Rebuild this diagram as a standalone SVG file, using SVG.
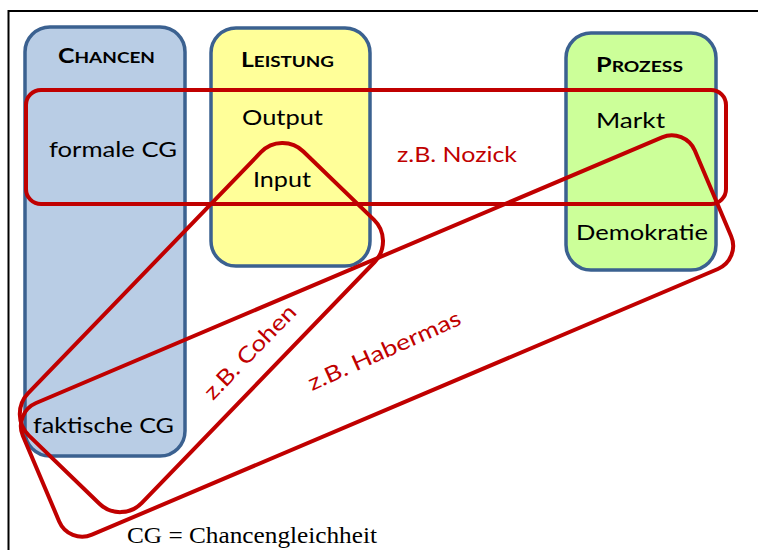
<svg xmlns="http://www.w3.org/2000/svg" width="758" height="550" viewBox="0 0 758 550">
<style>
.box{stroke:#3B6190;stroke-width:3.5}
.lbl{font-family:Lato,"Open Sans",sans-serif;font-size:22px;fill:#000}
.ttl{font-family:Lato,"Open Sans",sans-serif;font-weight:bold;fill:#000}
.red{fill:none;stroke:#C00000;stroke-width:4}
.rtx{font-family:Lato,"Open Sans",sans-serif;font-size:22px;fill:#C00000}
</style>
<rect x="0" y="0" width="758" height="550" fill="#fff"/>
<rect x="8.5" y="11" width="800" height="600" fill="none" stroke="#000" stroke-width="2"/>
<g id="chancen">
<rect class="box" x="25" y="27" width="160" height="429" rx="25" fill="#B9CDE5"/>
<text class="ttl" x="58" y="63" textLength="97" lengthAdjust="spacingAndGlyphs"><tspan font-size="21">C</tspan><tspan font-size="16">HANCEN</tspan></text>
<text class="lbl" x="49" y="157" textLength="128" lengthAdjust="spacingAndGlyphs">formale CG</text>
<text class="lbl" x="33" y="433" textLength="141" lengthAdjust="spacingAndGlyphs">faktische CG</text>
</g>
<g id="leistung">
<rect class="box" x="211" y="28" width="159" height="238" rx="25" fill="#FFFF99"/>
<text class="ttl" x="241" y="67" textLength="93" lengthAdjust="spacingAndGlyphs"><tspan font-size="21">L</tspan><tspan font-size="16">EISTUNG</tspan></text>
<text class="lbl" x="242" y="125" textLength="81" lengthAdjust="spacingAndGlyphs">Output</text>
<text class="lbl" x="253" y="187" textLength="58" lengthAdjust="spacingAndGlyphs">Input</text>
</g>
<g id="prozess">
<rect class="box" x="566" y="33" width="150" height="237" rx="25" fill="#CCFF99"/>
<text class="ttl" x="596" y="72" textLength="87" lengthAdjust="spacingAndGlyphs"><tspan font-size="21">P</tspan><tspan font-size="16">ROZESS</tspan></text>
<text class="lbl" x="596" y="128" textLength="69" lengthAdjust="spacingAndGlyphs">Markt</text>
<text class="lbl" x="576" y="240" textLength="132" lengthAdjust="spacingAndGlyphs">Demokratie</text>
</g>
<g id="nozick">
<rect class="red" x="26" y="90" width="700" height="114" rx="15"/>
<text class="rtx" x="397" y="162" textLength="120" lengthAdjust="spacingAndGlyphs">z.B. Nozick</text>
</g>
<g id="cohen">
<rect class="red" x="-197.5" y="-79" width="395" height="158" rx="30" transform="translate(201.4 327.6) rotate(-46)"/>
<text class="rtx" transform="translate(213 401) rotate(-46)" textLength="122" lengthAdjust="spacingAndGlyphs">z.B. Cohen</text>
</g>
<g id="habermas">
<rect class="red" x="-365" y="-71.5" width="730" height="143" rx="25" transform="translate(377 336) rotate(-23)"/>
<text class="rtx" transform="translate(312 391) rotate(-24)" textLength="165" lengthAdjust="spacingAndGlyphs">z.B. Habermas</text>
</g>
<text x="127" y="543" font-family="'Liberation Serif',serif" font-size="24" textLength="250" lengthAdjust="spacingAndGlyphs" fill="#000">CG = Chancengleichheit</text>
</svg>
